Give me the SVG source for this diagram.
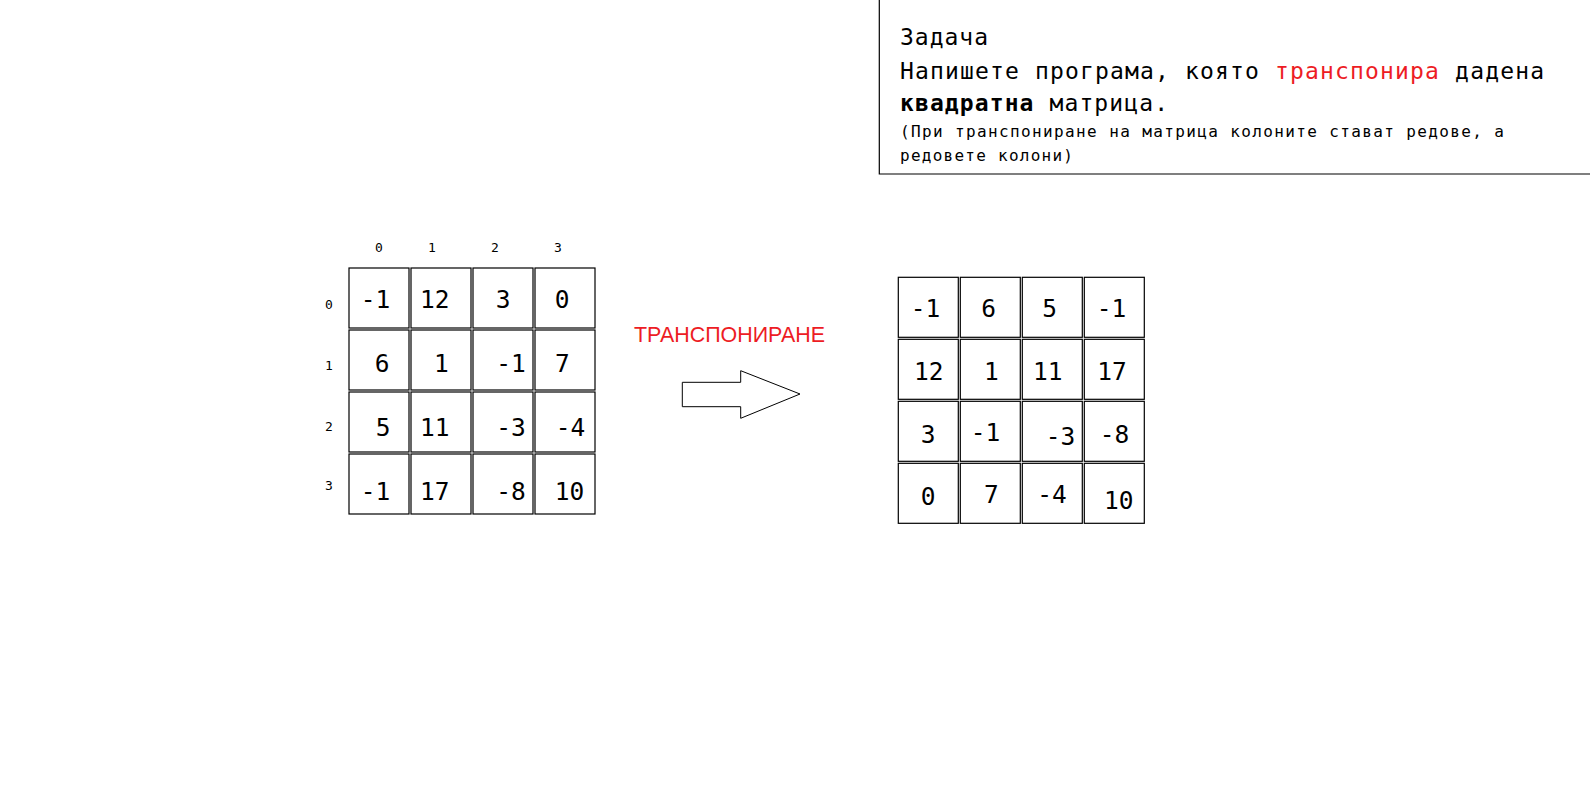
<svg xmlns="http://www.w3.org/2000/svg" width="1590" height="798" viewBox="0 0 1590 798">
<style>
.cell{fill:#fff;stroke:#000;stroke-width:1.2}
.num{font-family:"DejaVu Sans Mono","Liberation Mono",monospace;font-size:24.5px;fill:#000}
.idx{font-family:"DejaVu Sans Mono","Liberation Mono",monospace;font-size:13px;fill:#000}
.task{font-family:"DejaVu Sans Mono","Liberation Mono",monospace;fill:#000}
</style>
<rect width="1590" height="798" fill="#fff"/>
<g id="task-box">
<path d="M879.3,0 V174 H1590" fill="none" stroke="#000" stroke-width="1.2"/>
<text class="task" x="900" y="45" font-size="23" textLength="88" lengthAdjust="spacing">Задача</text>
<text class="task" x="900" y="79" font-size="23" textLength="644" lengthAdjust="spacing">Напишете програма, която <tspan fill="#ed1c24">транспонира</tspan> дадена</text>
<text class="task" x="900" y="110.7" font-size="23" textLength="268" lengthAdjust="spacing"><tspan font-weight="bold">квадратна</tspan> матрица.</text>
<text class="task" x="900" y="136.7" font-size="16" textLength="604" lengthAdjust="spacing">(При транспониране на матрица колоните стават редове, а</text>
<text class="task" x="900" y="160.5" font-size="16" textLength="173" lengthAdjust="spacing">редовете колони)</text>
</g>
<g id="col-indices">
<text class="idx" x="375" y="252">0</text>
<text class="idx" x="428" y="252">1</text>
<text class="idx" x="491" y="252">2</text>
<text class="idx" x="554" y="252">3</text>
</g>
<g id="row-indices">
<text class="idx" x="325" y="309">0</text>
<text class="idx" x="325" y="370">1</text>
<text class="idx" x="325" y="431">2</text>
<text class="idx" x="325" y="490">3</text>
</g>
<g id="matrix-original">
<rect class="cell" x="349" y="268" width="60" height="60"/>
<rect class="cell" x="411" y="268" width="60" height="60"/>
<rect class="cell" x="473" y="268" width="60" height="60"/>
<rect class="cell" x="535" y="268" width="60" height="60"/>
<rect class="cell" x="349" y="330" width="60" height="60"/>
<rect class="cell" x="411" y="330" width="60" height="60"/>
<rect class="cell" x="473" y="330" width="60" height="60"/>
<rect class="cell" x="535" y="330" width="60" height="60"/>
<rect class="cell" x="349" y="392" width="60" height="60"/>
<rect class="cell" x="411" y="392" width="60" height="60"/>
<rect class="cell" x="473" y="392" width="60" height="60"/>
<rect class="cell" x="535" y="392" width="60" height="60"/>
<rect class="cell" x="349" y="454" width="60" height="60"/>
<rect class="cell" x="411" y="454" width="60" height="60"/>
<rect class="cell" x="473" y="454" width="60" height="60"/>
<rect class="cell" x="535" y="454" width="60" height="60"/>
<text class="num" x="360.7" y="308">-1</text>
<text class="num" x="420" y="308">12</text>
<text class="num" x="495.7" y="308">3</text>
<text class="num" x="554.7" y="308">0</text>
<text class="num" x="374.7" y="371.5">6</text>
<text class="num" x="434" y="371.5">1</text>
<text class="num" x="496.3" y="371.5">-1</text>
<text class="num" x="555" y="371.5">7</text>
<text class="num" x="375.7" y="436">5</text>
<text class="num" x="420" y="436">11</text>
<text class="num" x="496.3" y="436">-3</text>
<text class="num" x="555.7" y="436">-4</text>
<text class="num" x="360.7" y="500">-1</text>
<text class="num" x="420" y="500">17</text>
<text class="num" x="496.3" y="500">-8</text>
<text class="num" x="554.7" y="500">10</text>
</g>
<g id="label-transpose">
<text x="634" y="342" font-family="Liberation Sans, Arial, sans-serif" font-size="22.5" fill="#ed1c24" textLength="191" lengthAdjust="spacingAndGlyphs">ТРАНСПОНИРАНЕ</text>
</g>
<g id="connectors">
<polygon points="682.3,382.3 740.7,382.3 740.7,370.7 800,394 740.7,418.3 740.7,406.7 682.3,406.7" fill="#fff" stroke="#000" stroke-width="1"/>
</g>
<g id="matrix-transposed">
<rect class="cell" x="898.3" y="277.3" width="60" height="60"/>
<rect class="cell" x="960.3" y="277.3" width="60" height="60"/>
<rect class="cell" x="1022.3" y="277.3" width="60" height="60"/>
<rect class="cell" x="1084.3" y="277.3" width="60" height="60"/>
<rect class="cell" x="898.3" y="339.3" width="60" height="60"/>
<rect class="cell" x="960.3" y="339.3" width="60" height="60"/>
<rect class="cell" x="1022.3" y="339.3" width="60" height="60"/>
<rect class="cell" x="1084.3" y="339.3" width="60" height="60"/>
<rect class="cell" x="898.3" y="401.3" width="60" height="60"/>
<rect class="cell" x="960.3" y="401.3" width="60" height="60"/>
<rect class="cell" x="1022.3" y="401.3" width="60" height="60"/>
<rect class="cell" x="1084.3" y="401.3" width="60" height="60"/>
<rect class="cell" x="898.3" y="463.3" width="60" height="60"/>
<rect class="cell" x="960.3" y="463.3" width="60" height="60"/>
<rect class="cell" x="1022.3" y="463.3" width="60" height="60"/>
<rect class="cell" x="1084.3" y="463.3" width="60" height="60"/>
<text class="num" x="910.7" y="316.7">-1</text>
<text class="num" x="981.3" y="316.7">6</text>
<text class="num" x="1042.3" y="316.7">5</text>
<text class="num" x="1096.7" y="316.7">-1</text>
<text class="num" x="914" y="380">12</text>
<text class="num" x="984" y="380">1</text>
<text class="num" x="1033" y="380">11</text>
<text class="num" x="1097.3" y="380">17</text>
<text class="num" x="920.7" y="443.3">3</text>
<text class="num" x="970.7" y="441">-1</text>
<text class="num" x="1045.7" y="445">-3</text>
<text class="num" x="1099.7" y="443.3">-8</text>
<text class="num" x="920.7" y="505">0</text>
<text class="num" x="984" y="502.7">7</text>
<text class="num" x="1037.3" y="503.3">-4</text>
<text class="num" x="1104" y="509.3">10</text>
</g>
</svg>
